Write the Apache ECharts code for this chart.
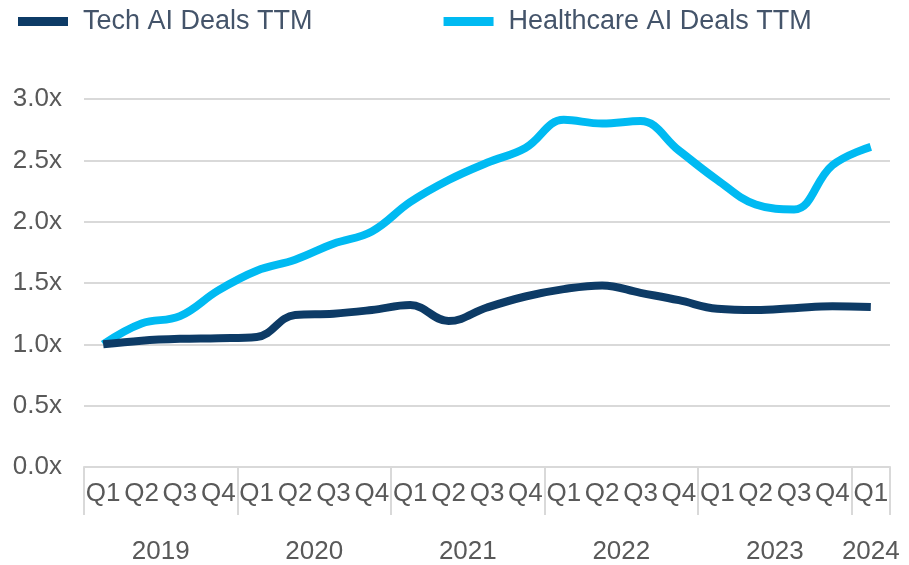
<!DOCTYPE html>
<html>
<head>
<meta charset="utf-8">
<script src="https://cdn.jsdelivr.net/npm/echarts@6/dist/echarts.min.js"></script>
<style>
  html, body { margin: 0; padding: 0; background: #fff; }
  #chart { width: 909px; height: 565px; }
</style>
</head>
<body>
<div id="chart"></div>
<script>
// years and how many quarters each one has on the axis
const years = ['2019', '2020', '2021', '2022', '2023', '2024'];
const quartersPerYear = [4, 4, 4, 4, 4, 1];

// TTM deal multiples
const techDeals = [1.00, 1.03, 1.045, 1.05, 1.06, 1.24, 1.25, 1.28, 1.32, 1.19, 1.30,
  1.39, 1.45, 1.48, 1.42, 1.36, 1.29, 1.28, 1.295, 1.31, 1.305];
const healthcareDeals = [1.00, 1.17, 1.23, 1.44, 1.60, 1.69, 1.82, 1.92, 2.16, 2.34, 2.48,
  2.60, 2.83, 2.80, 2.82, 2.58, 2.34, 2.14, 2.10, 2.46, 2.61];

const yTicks = [0, 0.5, 1.0, 1.5, 2.0, 2.5, 3.0];

const categories = [];
const yearBounds = [0];
const yearMids = {};
years.forEach((y, i) => {
  const start = yearBounds[yearBounds.length - 1];
  for (let q = 1; q <= quartersPerYear[i]; q++) categories.push(y + ' Q' + q);
  yearBounds.push(start + quartersPerYear[i]);
  yearMids[start + quartersPerYear[i] / 2] = y;
});

const font = 'Liberation Sans, Arial, sans-serif';
const gray = '#D9D9D9';

const chart = echarts.init(document.getElementById('chart'));
chart.setOption({
  animation: false,
  textStyle: { fontFamily: font },
  legend: {
    data: ['Tech AI Deals TTM', 'Healthcare AI Deals TTM'],
    left: 13,
    top: 3,
    icon: 'rect',
    itemWidth: 50,
    itemHeight: 9,
    itemGap: 131,
    textStyle: { fontSize: 27, color: '#44546A', fontFamily: font, padding: [0, 0, 0, 10] }
  },
  grid: { left: 84, right: 19, top: 99, bottom: 97 },
  xAxis: [
    {
      type: 'category',
      data: categories,
      boundaryGap: true,
      axisLine: { show: false },
      axisTick: { show: false },
      axisLabel: {
        interval: 0,
        fontSize: 26,
        color: '#595959',
        margin: 14,
        formatter: v => v.split(' ')[1]
      }
    },
    {
      type: 'value',
      min: 0,
      max: categories.length,
      position: 'bottom',
      splitLine: { show: false },
      axisLine: { show: true, lineStyle: { color: gray, width: 2 } },
      axisTick: {
        show: true,
        customValues: yearBounds,
        length: 48,
        lineStyle: { color: gray, width: 2 }
      },
      axisLabel: {
        customValues: Object.keys(yearMids).map(Number),
        fontSize: 26,
        color: '#595959',
        margin: 72,
        formatter: v => yearMids[v] || ''
      }
    }
  ],
  yAxis: {
    type: 'value',
    min: yTicks[0],
    max: yTicks[yTicks.length - 1],
    interval: 0.5,
    axisLine: { show: false },
    axisTick: { show: false },
    splitLine: { lineStyle: { color: gray, width: 2 } },
    axisLabel: {
      fontSize: 26,
      color: '#595959',
      margin: 22,
      formatter: v => v.toFixed(1) + 'x'
    }
  },
  series: [
    {
      name: 'Healthcare AI Deals TTM',
      type: 'line',
      xAxisIndex: 0,
      data: healthcareDeals,
      smooth: 0.4,
      symbol: 'none',
      itemStyle: { color: '#00BAF2' },
      lineStyle: { color: '#00BAF2', width: 8 }
    },
    {
      name: 'Tech AI Deals TTM',
      type: 'line',
      xAxisIndex: 0,
      data: techDeals,
      smooth: 0.4,
      symbol: 'none',
      itemStyle: { color: '#0D3B66' },
      lineStyle: { color: '#0D3B66', width: 8 }
    }
  ]
});
</script>
</body>
</html>
